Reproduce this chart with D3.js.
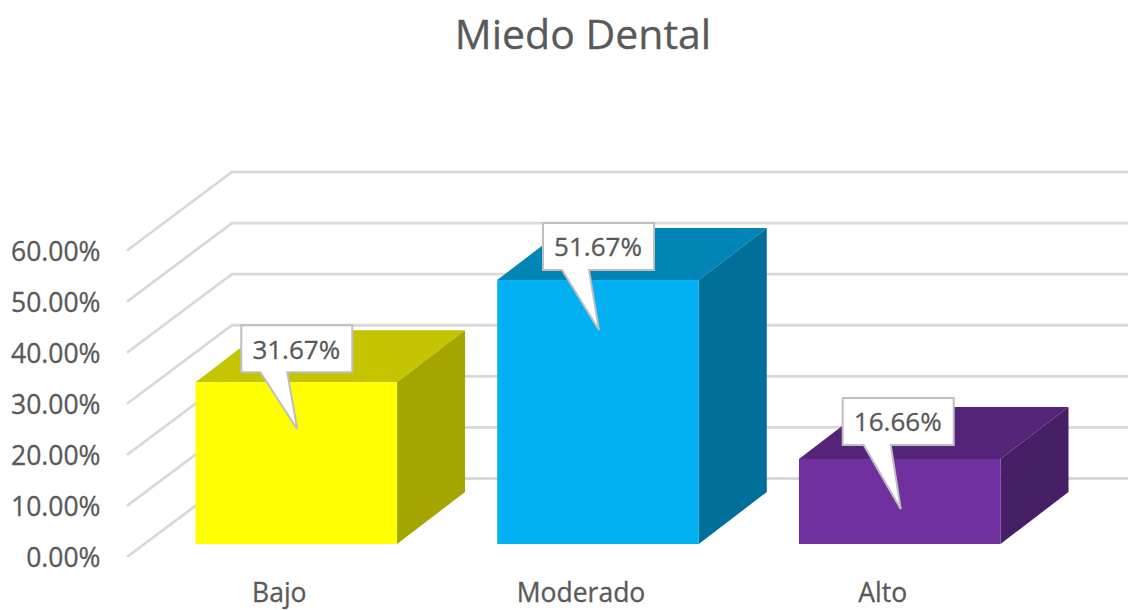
<!DOCTYPE html>
<html><head><meta charset="utf-8">
<script src="https://cdn.jsdelivr.net/npm/d3@7"></script>
<style>html,body{margin:0;padding:0;background:#fff}svg{display:block}text{font-family:"Open Sans",sans-serif;fill:#595959;stroke:#595959;stroke-width:0.3px}</style>
</head><body><svg id="c" width="1128" height="610"></svg>
<script>
const categories = ["Bajo","Moderado","Alto"];
const values = [31.67,51.67,16.66];
const valueLabels = ["31.67%","51.67%","16.66%"];
const tickValues = [0,10,20,30,40,50,60];
const frontColors = ["#FFFF00","#00B0F0","#7030A0"];
const topColors = ["#C4C400","#0085B7","#542478"];
const sideColors = ["#A5A500","#006F9A","#471F66"];
const titleText = "Miedo Dental";

const svg = d3.select("#c");
// depth projection of the 3D wall and of the bars
const wall = {dx:105, dy:-78.5}, barDepth = {dx:68, dy:-52}, floorY = 544;
const y = d3.scaleLinear().domain([0,60]).range([557,250.5]);
const h = v => y(0)-y(v);
const x = d3.scaleBand().domain(categories).range([195.5,1000.5]).paddingInner(0.332).paddingOuter(0);

svg.append("text").attr("x",583).attr("y",49).attr("text-anchor","middle").attr("font-size",41).text(titleText);

// gridlines: side wall + back wall
const grid = svg.append("g").attr("fill","none").attr("stroke","#D9D9D9").attr("stroke-width",2.8);
grid.selectAll("path").data(tickValues).join("path")
  .attr("d",t=>d3.line()([[127,y(t)],[127+wall.dx,y(t)+wall.dy],[1128,y(t)+wall.dy]]));

// axis tick labels
const axis = d3.axisLeft(y).tickValues(tickValues).tickSize(0).tickPadding(0).tickFormat(t=>d3.format(".2f")(t)+"%");
const ga = svg.append("g").attr("transform","translate(100.5,1.5)").call(axis);
ga.select(".domain").remove();
ga.selectAll("text").attr("font-size",26.5).attr("font-family",'"Open Sans",sans-serif').attr("fill","#595959").attr("dy","0.32em");

// bars
const bars = svg.append("g").selectAll("g").data(categories).join("g");
bars.append("path").attr("fill",(d,i)=>topColors[i]).attr("d",(d,i)=>{
  const x0=x(d),x1=x0+x.bandwidth(),t=floorY-h(values[i]);
  return d3.line()([[x0,t],[x1,t],[x1+barDepth.dx,t+barDepth.dy],[x0+barDepth.dx,t+barDepth.dy]])+"Z";});
bars.append("path").attr("fill",(d,i)=>sideColors[i]).attr("d",(d,i)=>{
  const x1=x(d)+x.bandwidth(),t=floorY-h(values[i]);
  return d3.line()([[x1,t],[x1+barDepth.dx,t+barDepth.dy],[x1+barDepth.dx,floorY+barDepth.dy],[x1,floorY]])+"Z";});
bars.append("rect").attr("fill",(d,i)=>frontColors[i])
  .attr("x",d=>x(d)).attr("width",x.bandwidth())
  .attr("y",(d,i)=>floorY-h(values[i])).attr("height",(d,i)=>h(values[i]));

// category labels
svg.append("g").selectAll("text").data(categories).join("text")
  .attr("x",d=>x(d)+x.bandwidth()/2-17).attr("y",602).attr("text-anchor","middle").attr("font-size",26.5).text(d=>d);

// callouts
const calloutTop = [-57,-57,-61], calloutShiftX = [0,0,-2];
const callouts = svg.append("g").selectAll("g").data(categories).join("g")
  .attr("transform",(d,i)=>`translate(${x(d)+x.bandwidth()/2},${floorY-h(values[i])})`);
callouts.append("path").attr("fill","#fff").attr("stroke","#BFBFBF").attr("stroke-width",2)
  .attr("stroke-linejoin","miter")
  .attr("d",(d,i)=>{
    const tipY = i===0?47:50, top = calloutTop[i], bot = top+47;
    const L=-55+calloutShiftX[i], R=L+111;
    return d3.line()([[L,top],[R,top],[R,bot],[-9,bot],[1,tipY],[-36,bot],[L,bot]])+"Z";});
callouts.append("text").attr("x",(d,i)=>calloutShiftX[i]).attr("y",(d,i)=>calloutTop[i]+24).attr("dy","0.36em").attr("text-anchor","middle").attr("font-size",26)
  .text((d,i)=>valueLabels[i]);
</script></body></html>
